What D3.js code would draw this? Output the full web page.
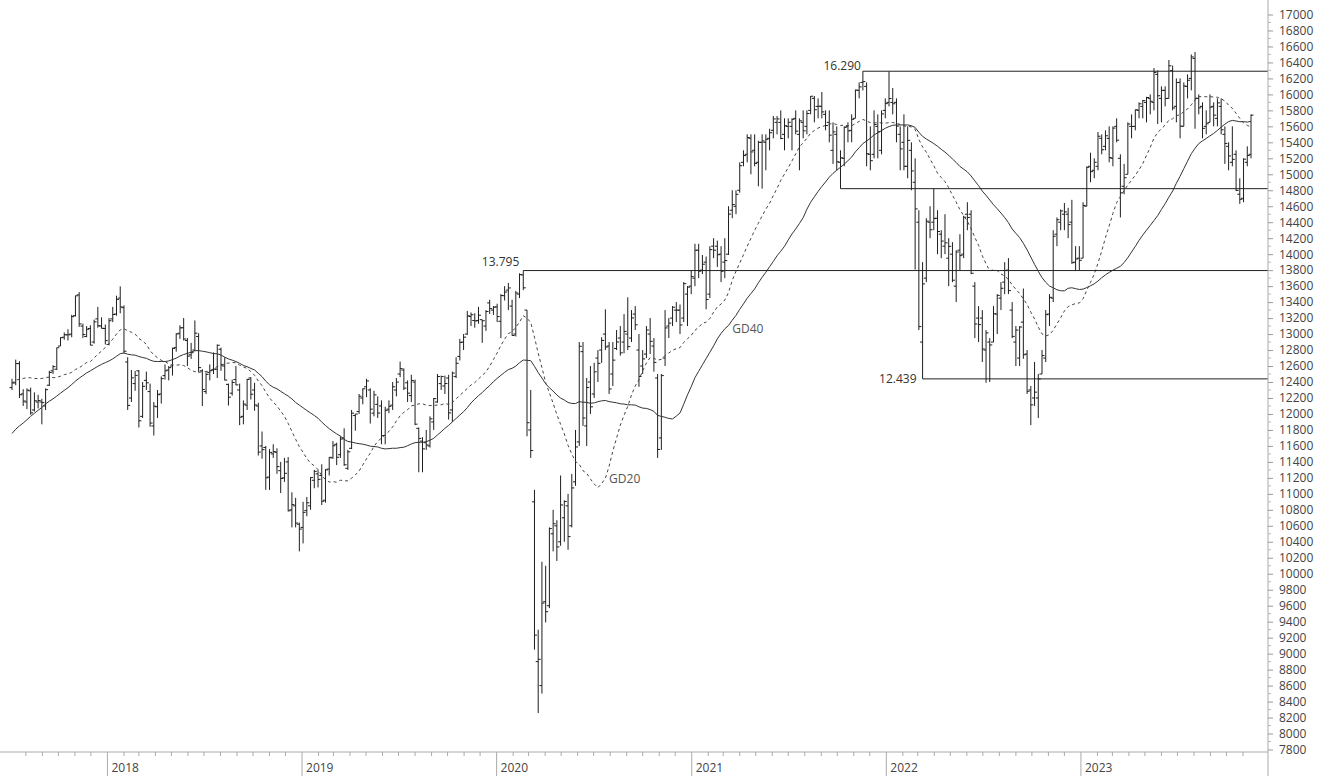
<!DOCTYPE html>
<html><head><meta charset="utf-8">
<script src="https://cdn.jsdelivr.net/npm/d3@7/dist/d3.min.js"></script>
<style>body{margin:0;background:#fff}svg{display:block;font-family:"Open Sans",sans-serif}</style>
</head><body><svg id="chart" width="1325" height="776"></svg>
<script>
// Weekly bars (ISO weeks), first bar: week of Thursday 2017-07-06, last: week of 2023-11-16
const firstWeekThursday = "2017-07-06";

const open = [
12330,12390,12630,12250,12150,12290,12050,12150,12150,12100,12360,12540,12560,12850,12960,12990,13000,13230,13490,13100,12970,13070,12900,13190,13100,13070,
12870,13190,13250,13450,13330,12650,12200,12380,12540,11970,12420,12280,11850,12090,12250,12480,12550,12600,12830,13010,13080,12920,12740,12800,12970,12540,12280,12520,12550,12560,12810,12600,12370,12260,12430,12300,11970,12110,12450,12300,12100,11600,11580,11210,11500,11520,11290,11200,11400,10800,10850,10620,
10580,10790,10850,11170,11250,11230,10920,11310,11450,11620,11490,11700,11320,11570,11980,12030,12200,12340,12300,12010,12120,12100,11730,12060,12110,12300,12500,12550,12390,12230,12400,11820,11660,11640,11600,11900,12150,12380,12350,12450,12050,12470,12720,12900,13000,13220,13170,13170,13180,13100,13390,13300,
13340,13160,13480,13550,13350,13000,13500,13740,13300,11800,10900,8900,8600,9650,9600,10500,10600,10400,10700,10850,10600,11150,11650,12780,11850,12400,12250,12700,12800,13000,12850,12500,12820,12950,12900,13000,12950,13250,12800,12600,12750,13000,12850,12450,11700,12700,13100,13200,13300,13300,13200,13500,13600,
13700,14050,13800,13900,13500,14100,14100,14000,13900,14000,14550,14600,14800,15150,15250,15450,15300,15150,15400,15400,15450,15550,15650,15650,15500,15600,15600,15700,15500,15650,15600,15800,15950,15850,15850,15750,15650,15300,15500,15150,15200,15600,15550,15700,16050,16150,16100,15250,15250,15600,15300,15800,
15900,15900,15900,15500,15400,15100,15300,14900,14400,12900,13700,14400,14400,14450,14250,14100,13950,14000,13600,14050,14000,14500,14500,13600,13200,13200,12800,12900,12900,13250,13450,13650,13800,13300,12900,12700,13150,12750,12300,12200,12200,12500,12700,13250,13450,14250,14400,14500,14500,14400,13900,13950,
13950,14600,15100,15050,15100,15450,15350,15450,15200,15600,15200,14850,15000,15600,15600,15800,15850,15900,15950,15900,16250,15950,16050,15950,16300,15850,16150,15600,16100,16200,16450,15950,15850,15600,15650,15850,15700,15850,15500,15350,15150,15250,14750,14700,15150,15250];

const high = [
12440,12680,12660,12310,12320,12330,12270,12240,12190,12320,12540,12610,12830,12960,13020,13060,13240,13480,13525,13130,13100,13110,13180,13340,13210,13120,
13200,13340,13480,13597,13360,12710,12550,12540,12550,12400,12530,12380,12150,12300,12470,12620,12600,12830,13010,13110,13200,12950,12890,13170,13010,12560,12520,12620,12770,12870,12830,12710,12380,12430,12600,12380,12170,12440,12460,12390,12140,11780,11600,11560,11620,11570,11400,11450,11460,11020,10950,10640,
10900,10960,11210,11300,11300,11370,11310,11460,11660,11640,11720,11820,11550,12050,12000,12250,12320,12440,12320,12290,12220,12170,12090,12170,12400,12450,12656,12570,12420,12490,12430,11830,11710,11800,11970,12200,12500,12480,12480,12490,12530,12710,12940,13000,13290,13270,13260,13340,13180,13300,13430,13350,
13380,13500,13600,13640,13430,13540,13760,13795,13300,12300,11050,9300,10150,10100,10580,10800,10670,11230,10920,11000,11250,11800,12900,12900,12450,12600,12640,12800,12960,13310,12900,12900,13050,13100,13250,13460,13300,13350,13000,12800,13100,13200,12950,12500,12500,13300,13200,13350,13400,13370,13650,13600,13800,
14130,14130,13990,13970,14100,14200,14170,14100,14200,14600,14800,14800,15150,15300,15500,15500,15500,15420,15500,15500,15570,15730,15730,15800,15700,15700,15700,15800,15700,15800,15800,15980,15980,15950,16030,15800,15800,15650,15600,15300,15600,15650,15750,16060,16150,16290,16150,15600,15800,15750,15800,15950,
16285,16080,15950,15600,15750,15600,15400,15200,14550,13900,14450,14600,14820,14550,14300,14500,14200,14150,14050,14250,14480,14650,14550,13650,13350,13300,13050,12950,13350,13500,13650,13900,13950,13400,13100,13100,13570,12800,12350,12650,12500,12800,13300,13500,14300,14460,14560,14640,14580,14680,14100,14100,
14650,15100,15270,15200,15530,15500,15550,15600,15600,15700,15250,15130,15650,15750,15810,15900,15930,15970,16000,16330,16300,16100,16100,16430,16360,16200,16200,16150,16250,16500,16530,16000,15900,15800,16000,15900,15950,15950,15600,15400,15600,15300,14950,15200,15350,15750];

const low = [
12300,12360,12200,12100,12060,11990,12030,12070,11870,12050,12350,12500,12550,12850,12930,12920,12960,13220,13090,12950,12960,12860,12880,13080,13070,12870,
12860,13150,13230,13260,12760,12050,12150,12290,11830,11950,12300,11840,11730,11950,12130,12430,12420,12480,12780,12940,12920,12600,12690,12790,12520,12100,12250,12420,12500,12450,12540,12420,12105,12230,12360,11860,11870,12050,12180,12040,11480,11440,11050,11050,11450,11250,11010,11150,10780,10580,10580,10280,
10380,10720,10800,11070,11080,10860,10890,11230,11440,11360,11450,11350,11300,11560,11790,12000,12120,12210,11880,11970,11950,11620,11620,12010,12050,12220,12460,12300,12150,12150,11860,11270,11270,11550,11580,11800,12140,12300,12250,11930,11900,12450,12670,12800,12990,13100,13080,13130,12890,13040,13250,13240,
13150,12950,13420,13300,12980,12970,13450,13550,11720,11450,9050,8256,8500,9390,9570,10280,10160,10350,10400,10300,10580,11100,11600,11850,11600,12000,12200,12400,12640,12800,12250,12350,12800,12730,12760,12800,12900,13050,12340,12500,12700,12750,12530,11450,11550,12600,12950,13100,13150,13000,13150,13100,13500,
13600,13700,13750,13310,13450,13950,13840,13650,13700,13990,14450,14500,14770,15100,15150,15000,15100,14850,14820,15050,15300,15450,15500,15440,15300,15450,15300,15500,15050,15450,15500,15750,15650,15700,15700,15550,15400,15130,15050,14820,15100,15400,15400,15700,15950,16050,15100,15050,15200,15200,15250,15700,
15850,15750,15400,15050,15050,14950,14800,13807,13050,12439,13650,14200,14300,14000,13950,14000,13600,13650,13400,13800,13950,14300,13750,12950,12900,12650,12390,12400,12900,13000,13300,13500,13500,12950,12600,12600,12690,12250,11860,12100,11950,12500,12650,13100,13400,14100,14300,14300,14200,13880,13790,13800,
13950,14600,14900,14950,15050,15250,15300,15150,15100,15400,14460,14750,15000,15450,15550,15700,15700,15650,15750,15800,15630,15650,15850,15950,15800,15650,15450,15600,15950,16050,15570,15750,15450,15500,15650,15600,15600,15500,15130,15050,15100,14790,14630,14650,15100,15200];

const close = [
12389,12631,12240,12162,12298,12014,12165,12168,12142,12304,12519,12592,12829,12955,12992,12991,13218,13479,13127,12994,13060,12861,13153,13104,13072,12918,
13167,13245,13434,13340,12785,12107,12452,12483,11914,12346,12390,11886,12097,12241,12442,12540,12580,12820,13001,13077,12938,12724,12767,13011,12580,12306,12496,12541,12561,12860,12616,12424,12210,12394,12364,11959,12124,12431,12247,12112,11523,11553,11201,11519,11529,11341,11193,11257,10788,10865,10634,10559,
10768,10888,11205,11282,11181,10907,11300,11457,11602,11458,11686,11364,11526,12010,11999,12222,12315,12413,12060,12239,12011,11727,12045,12096,12340,12399,12568,12323,12260,12419,11872,11694,11563,11612,11939,12192,12469,12468,12381,12013,12512,12634,12895,12961,13229,13242,13164,13236,13167,13283,13318,13337,
13219,13483,13526,13577,12982,13514,13745,13579,11890,11542,9232,8929,9633,9525,10565,10626,10336,10861,10904,10465,11074,11587,12847,11949,12331,12089,12528,12633,12920,12838,12313,12674,12901,12765,13033,12843,13202,13116,12469,12689,13051,12909,12645,11556,12480,13077,13137,13336,13299,13114,13631,13587,13719,
14049,13787,13874,13433,14057,14050,13993,13786,13920,14502,14621,14749,15107,15234,15460,15280,15136,15400,15417,15438,15520,15693,15693,15448,15607,15650,15688,15540,15669,15544,15761,15977,15808,15852,15781,15610,15490,15531,15156,15206,15587,15543,15688,16054,16094,16160,15257,15170,15623,15532,15756,15885,
15948,15883,15603,15318,15100,15425,15042,14567,13094,13628,14413,14306,14446,14284,14164,14142,14098,13674,14027,13982,14462,14460,13761,13126,13118,12813,13015,12864,13254,13484,13573,13795,13544,12971,13050,13088,12741,12284,12114,12273,12438,12731,13243,13460,14224,14431,14541,14529,14370,13893,13940,13923,
14610,15087,15033,15150,15476,15307,15482,15210,15578,15427,14768,14957,15629,15598,15808,15882,15922,15961,15914,16275,15983,16051,15949,16358,15830,16148,15603,16105,16177,16469,15952,15832,15575,15632,15840,15740,15894,15557,15386,15230,15187,14798,14687,15189,15234,15740];

// 39 weekly closes before the first bar (Oct 2016 - Jun 2017), needed for the GD20 / GD40 averages
const closesBefore = [10490,10580,10711,10696,10259,10668,10664,10699,10513,11203,11404,11450,11481,11599,11629,11630,11814,11651,11666,11757,11804,12027,11963,12095,12064,12313,12225,12109,12049,12438,12717,12770,12638,12602,12823,12816,12753,12733,12325];

// horizontal levels: value, label, index of bar where the line starts
const levelValues = [16290, 13795, 12439, 14820];
const levelLabels = ["16.290", "13.795", "12.439", ""];
const levelStartBar = [228, 137, 244, 222];

const maPeriods = [20, 40];
const maLabels = ["GD20", "GD40"];

const yTickValues = d3.range(7800, 17001, 200);
const yMinorValues = d3.range(7900, 17000, 200);

// ---------------------------------------------------------------
const W = 1325, H = 776;
const svg = d3.select("#chart");
const n = close.length;
const t0 = d3.isoParse(firstWeekThursday + "T00:00:00");
const dates = d3.range(n).map(i => d3.timeDay.offset(new Date(t0.getFullYear(), t0.getMonth(), t0.getDate()), 7 * i));

const x = d3.scaleTime().domain([dates[0], dates[n - 1]]).range([12, 1251]);
const y = d3.scaleLinear().domain([7800, 17000]).range([749.5, 14.5]);
const axisX = 1268, axisBottom = 752;

// bars
const bars = svg.append("g").attr("stroke", "#1e1e1e").attr("stroke-width", 1);
for (let i = 0; i < n; i++) {
  const cx = x(dates[i]);
  bars.append("line").attr("x1", cx).attr("x2", cx).attr("y1", y(high[i])).attr("y2", y(low[i]));
  bars.append("line").attr("x1", cx - 2.5).attr("x2", cx).attr("y1", y(open[i])).attr("y2", y(open[i]));
  bars.append("line").attr("x1", cx).attr("x2", cx + 2.5).attr("y1", y(close[i])).attr("y2", y(close[i]));
}

// moving averages
const allCloses = closesBefore.concat(close);
const off = closesBefore.length;
function sma(p) {
  return d3.range(n).map(i => d3.mean(allCloses.slice(off + i - p + 1, off + i + 1)));
}
const ma20 = sma(maPeriods[0]), ma40 = sma(maPeriods[1]);
const line = d3.line().x((d, i) => x(dates[i])).y(d => y(d));
svg.append("path").attr("d", line(ma40)).attr("fill", "none").attr("stroke", "#333").attr("stroke-width", 1);
svg.append("path").attr("d", line(ma20)).attr("fill", "none").attr("stroke", "#444").attr("stroke-width", 1).attr("stroke-dasharray", "3,3");

// horizontal levels
levelValues.forEach((v, k) => {
  const sx = x(dates[levelStartBar[k]]);
  svg.append("line").attr("x1", sx).attr("x2", axisX).attr("y1", y(v)).attr("y2", y(v))
    .attr("stroke", "#222").attr("stroke-width", 1);
});
const lab = svg.append("g").attr("font-size", 12).attr("fill", "#333");
lab.append("text").attr("x", x(dates[levelStartBar[0]]) - 2).attr("y", y(levelValues[0]) - 1).attr("text-anchor", "end").text(levelLabels[0]);
lab.append("text").attr("x", x(dates[levelStartBar[1]]) - 4).attr("y", y(levelValues[1]) - 5).attr("text-anchor", "end").text(levelLabels[1]);
lab.append("text").attr("x", x(dates[levelStartBar[2]]) - 6).attr("y", y(levelValues[2])).attr("dy", "0.35em").attr("text-anchor", "end").text(levelLabels[2]);
// MA labels
lab.append("text").attr("x", x(dates[160])).attr("y", y(11190)).attr("dy", "0.35em").attr("fill", "#555").text(maLabels[0]);
lab.append("text").attr("x", x(dates[193])).attr("y", y(13060)).attr("dy", "0.35em").attr("fill", "#555").text(maLabels[1]);

// right axis
svg.append("line").attr("x1", axisX).attr("x2", axisX).attr("y1", 0).attr("y2", H).attr("stroke", "#aaa");
const ya = svg.append("g").attr("transform", `translate(${axisX},0)`)
  .call(d3.axisRight(y).tickValues(yTickValues).tickSize(5).tickPadding(6).tickFormat(d3.format("d")));
ya.select(".domain").remove();
ya.selectAll(".tick line").attr("stroke", "#999");
ya.selectAll(".tick text").attr("fill", "#444").attr("font-size", 12).attr("font-family", "Open Sans, sans-serif");
svg.append("g").selectAll("line").data(yMinorValues).join("line")
  .attr("x1", axisX).attr("x2", axisX + 3).attr("y1", d => y(d)).attr("y2", d => y(d)).attr("stroke", "#bbb");

// bottom axis
svg.append("line").attr("x1", 0).attr("x2", axisX).attr("y1", axisBottom).attr("y2", axisBottom).attr("stroke", "#aaa");
const months = d3.timeMonth.range(d3.timeMonth.ceil(dates[0]), dates[n - 1]);
svg.append("g").selectAll("line").data(months).join("line")
  .attr("x1", d => x(d)).attr("x2", d => x(d)).attr("y1", axisBottom).attr("y2", d => d.getMonth() === 0 ? H : axisBottom + 4)
  .attr("stroke", "#aaa");
const years = d3.timeYear.range(d3.timeYear.ceil(dates[0]), dates[n - 1]);
svg.append("g").selectAll("text").data(years).join("text")
  .attr("x", d => x(d) + 4).attr("y", 772).attr("font-size", 12).attr("fill", "#444").text(d => d.getFullYear());
</script></body></html>
